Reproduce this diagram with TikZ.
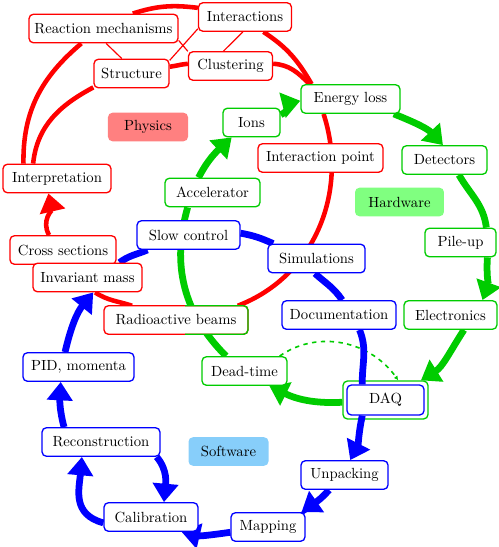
\documentclass[tikz,border=0pt]{standalone}
\usetikzlibrary{arrows.meta}
\definecolor{gcol}{RGB}{0,204,0}
\definecolor{swcol}{RGB}{135,206,250}
\pgfdeclarelayer{bg}
\pgfdeclarelayer{lines}
\pgfsetlayers{bg,lines,main}
\tikzset{
  nd/.style={draw, rounded corners=3pt, fill=white, line width=0.9pt, minimum height=19.4pt, inner sep=2pt},
  rn/.style={nd, draw=red},
  gn/.style={nd, draw=gcol},
  bn/.style={nd, draw=blue},
  lab/.style={rounded corners=3pt, minimum height=19.4pt, inner sep=2pt},
  rline/.style={draw=red, line width=3.1pt},
  rthin/.style={draw=red, line width=0.8pt},
  gline/.style={draw=gcol, line width=4.6pt},
  bline/.style={draw=blue, line width=4.6pt},
  big/.style={-{Triangle[length=12.5pt,width=17pt]}},
}
\begin{document}
\begin{tikzpicture}[x=0.68pt,y=0.68pt]
\useasboundingbox (0,0) rectangle (499,-547);
% labels
\node[lab, fill=red!50, minimum width=54.4pt] (PHY) at (148,-127) {Physics};
\node[lab, fill=green!50, minimum width=60.5pt] (HW) at (399.5,-202) {Hardware};
\node[lab, fill=swcol, minimum width=54.4pt] (SW) at (228.5,-451.5) {Software};
% red nodes
\node[rn, minimum width=101.3pt] (RM) at (103.5,-28.5) {Reaction mechanisms};
\node[rn, minimum width=63.2pt] (INT) at (245,-17) {Interactions};
\node[rn, minimum width=51pt] (STR) at (131.5,-73.5) {Structure};
\node[rn, minimum width=57.1pt] (CLU) at (230.5,-66) {Clustering};
\node[rn, minimum width=73.4pt] (INTP) at (57,-178.5) {Interpretation};
\node[rn, minimum width=72.1pt] (CS) at (63,-250) {Cross sections};
\node[rn, minimum width=74.1pt] (IM) at (87.5,-277.5) {Invariant mass};
\node[rn, minimum width=97.9pt, outer sep=0pt] (RB) at (176,-320) {Radioactive beams};
\begin{scope}
  \clip (185,-300) rectangle (260,-340);
  \draw[gcol, line width=0.9pt, rounded corners=3pt] (RB.south west) rectangle (RB.north east);
\end{scope}
\node[rn, minimum width=85pt] (IP) at (320.5,-158) {Interaction point};
% green nodes
\node[gn, minimum width=67.3pt] (EL) at (350.5,-99) {Energy loss};
\node[gn, minimum width=38.8pt] (IONS) at (251.5,-122.5) {Ions};
\node[gn, minimum width=57.8pt] (DET) at (444.5,-160) {Detectors};
\node[gn, minimum width=64.6pt] (ACC) at (212.5,-192.5) {Accelerator};
\node[gn, minimum width=48.3pt] (PU) at (460.5,-242.5) {Pile-up};
\node[gn, minimum width=63.2pt] (ELE) at (450.5,-315) {Electronics};
\node[gn, minimum width=57.8pt] (DT) at (244.5,-371) {Dead-time};
\begin{pgfonlayer}{bg}
\node[gn, minimum width=57.8pt, minimum height=25.8pt] (DAQo) at (385.5,-400) {};
\end{pgfonlayer}
% blue nodes
\node[bn, minimum width=52.4pt, minimum height=20.4pt] (DAQ) at (385.5,-400) {DAQ};
\node[bn, minimum width=70pt] (SC) at (188.5,-235) {Slow control};
\node[bn, minimum width=66pt] (SIM) at (316.5,-258.5) {Simulations};
\node[bn, minimum width=77.5pt] (DOC) at (339,-315) {Documentation};
\node[bn, minimum width=75.5pt] (PID) at (78.5,-367) {PID, momenta};
\node[bn, minimum width=80.2pt] (REC) at (101,-442) {Reconstruction};
\node[bn, minimum width=59.2pt] (UNP) at (344.5,-475) {Unpacking};
\node[bn, minimum width=63.9pt] (CAL) at (151,-517) {Calibration};
\node[bn, minimum width=50.3pt] (MAP) at (268,-527) {Mapping};

\begin{pgfonlayer}{lines}
% red
\draw[rline] (RM.27) to[out=18,in=173] (INT.169);
\draw[rline] (INT.-39.5) to[out=-33,in=120] (EL.159.5);
\draw[rline] (CLU.3) to[out=-3,in=135] (EL.160);
\draw[rline] (EL.-151) to[out=-72,in=21] (RB.13);
\draw[rline] (RB.162) to[out=162,in=-33] (IM.-63);
\draw[rline, big] (CS.133) to[out=120,in=-77] (INTP.-120);
\draw[rline] (INTP.156) to[out=91,in=-140] (RM.-146);
\draw[rline] (INTP.148) to[out=84,in=-152] (STR.-160);
\draw[rline] (STR.10) to[out=8,in=185] (CLU.177);
\draw[rthin] (RM.-80) -- (STR.123);
\draw[rthin] (RM.-9) -- (CLU.161);
\draw[rthin] (INT.194) -- (STR.19);
\draw[rthin] (INT.-98) -- (CLU.115);
% green
\draw[gline, big] (ACC.133) to[out=63,in=-137] (IONS.-143);
\draw[gline, big] (IONS.15) to[out=23,in=194] (EL.182);
\draw[gline, big] (EL.-19.5) to[out=-22,in=133] (DET.96);
\draw[gline] (DET.-46) to[out=-60,in=97] (PU.30);
\draw[gline, big] (PU.-29) to[out=-94,in=70] (ELE.25);
\draw[gline, big] (ELE.-48) to[out=-123,in=32] (DAQo.29);
\draw[gline, big] (DAQo.183) to[out=-177,in=-26] (DT.-31);
\draw[gline] (DT.141) to[out=135,in=-106] (ACC.-149);
\draw[gcol, line width=1.1pt, dashed, -{Latex[length=3pt,width=3pt]}] (DT.23) to[out=35,in=125] (DAQo.57);
% blue
\draw[bline] (SC.2) to[out=-10,in=156] (SIM.161);
\draw[bline] (IM.25) to[out=37,in=-157] (SC.-160);
\draw[bline] (SIM.-96) to[out=-42,in=124] (DOC.78);
\draw[bline] (DOC.-36) to[out=-68,in=91] (DAQ.146);
\draw[bline, big] (DAQ.-146) to[out=-102,in=63] (UNP.69);
\draw[bline, big] (UNP.-136) to[out=-131,in=35] (MAP.24);
\draw[bline, big] (MAP.188) to[out=-172,in=-13] (CAL.-26);
\draw[bline, big] (CAL.187) to[out=165,in=-95,looseness=1.2] (REC.-142);
\draw[bline, big] (REC.-15) to[out=-50,in=85] (CAL.49);
\draw[bline, big] (REC.158) to[out=105,in=-93] (PID.-140);
\draw[bline, big] (PID.132) to[out=77,in=-129] (IM.-69);
\end{pgfonlayer}
\end{tikzpicture}
\end{document}
